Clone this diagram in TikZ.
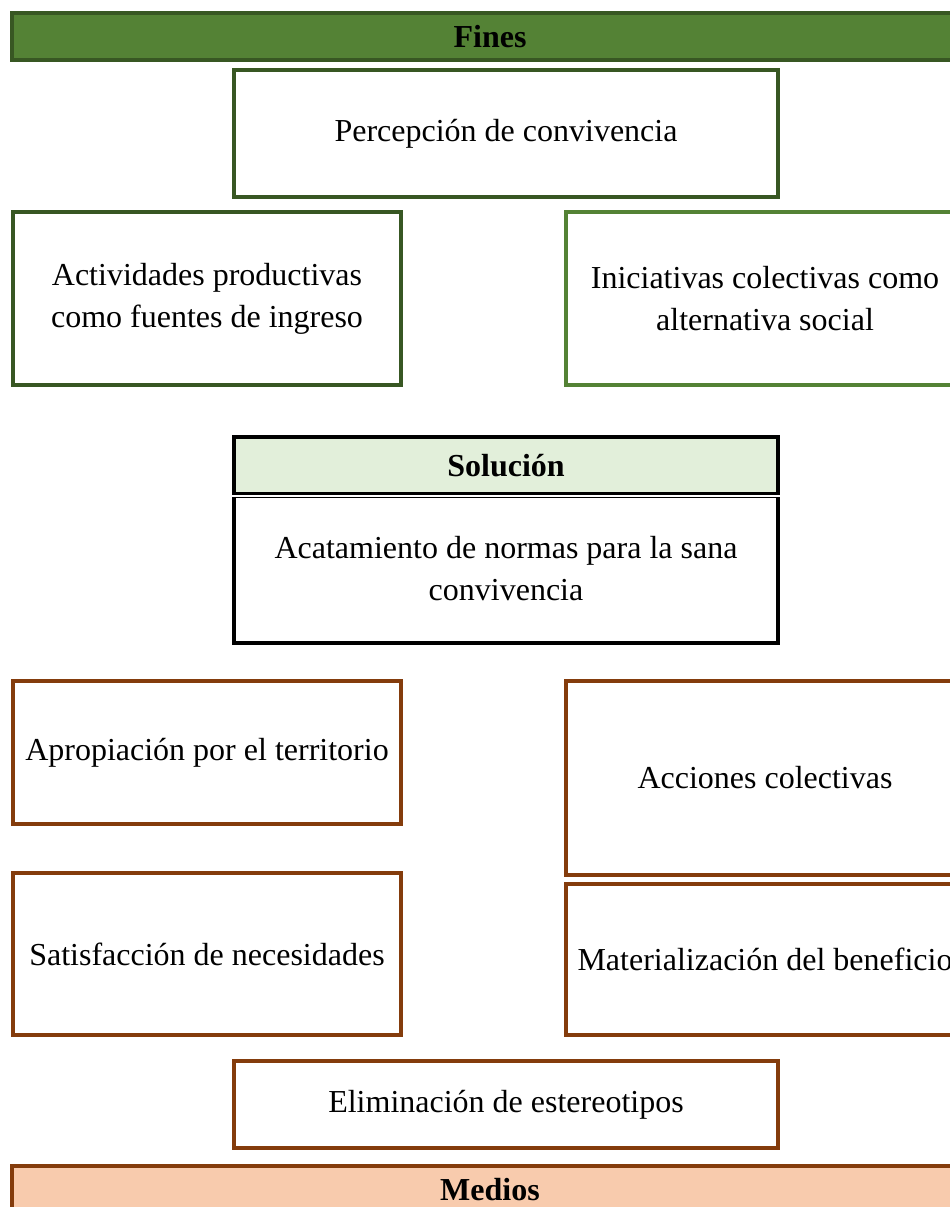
\documentclass[tikz,border=0pt]{standalone}
\usepackage{fontspec}
\setmainfont{Liberation Serif}
\definecolor{finesfill}{HTML}{548235}
\definecolor{finesline}{HTML}{385723}
\definecolor{solfill}{HTML}{E2EFDA}
\definecolor{medline}{HTML}{843C0C}
\definecolor{medfill}{HTML}{F8CBAD}
\begin{document}
\begin{tikzpicture}[x=1pt,y=-1pt,
  box/.style={draw,rectangle,line width=3.5pt,inner sep=0pt,align=center,
    font=\fontsize{32}{42}\selectfont},
  finbox/.style={box,draw=finesline},
  medbox/.style={box,draw=medline},
  bar/.style={box,font=\fontsize{32}{42}\selectfont\bfseries}]
  \useasboundingbox (0,0) rectangle (950,1207);
  % fines
  \node[bar,draw=finesline,fill=finesfill,minimum width=956,minimum height=47] (fines) at (490,36.5) {Fines};
  \node[finbox,minimum width=544,minimum height=127] (percep) at (506,133.5) {Percepción de convivencia};
  \node[finbox,minimum width=388,minimum height=173] (activ) at (207,298.5) {Actividades productivas\\como fuentes de ingreso};
  \node[finbox,draw=finesfill,minimum width=398,minimum height=173] (inic) at (765,298.5) {Iniciativas colectivas como\\alternativa social};
  % solucion
  \node[bar,draw=black,fill=solfill,minimum width=544,minimum height=57] (solhead) at (506,465.5) {Solución};
  \node[box,draw=black,minimum width=544,minimum height=149] (solbody) at (506,568.5) {Acatamiento de normas para la sana\\convivencia};
  \draw[double,double distance=1.5pt,line width=1pt] (solhead.south west) -- (solhead.south east);
  % medios
  \node[medbox,minimum width=388,minimum height=143] (aprop) at (207,752.5) {Apropiación por el territorio};
  \node[medbox,minimum width=398,minimum height=194] (acciones) at (765,778) {Acciones colectivas};
  \node[medbox,minimum width=388,minimum height=162] (satis) at (207,954) {Satisfacción de necesidades};
  \node[medbox,minimum width=398,minimum height=151] (mater) at (765,959.5) {Materialización del beneficio};
  \node[medbox,minimum width=544,minimum height=87] (elim) at (506,1104.5) {Eliminación de estereotipos};
  \node[bar,draw=medline,fill=medfill,minimum width=956,minimum height=48] (medios) at (490,1190) {Medios};
\end{tikzpicture}
\end{document}
